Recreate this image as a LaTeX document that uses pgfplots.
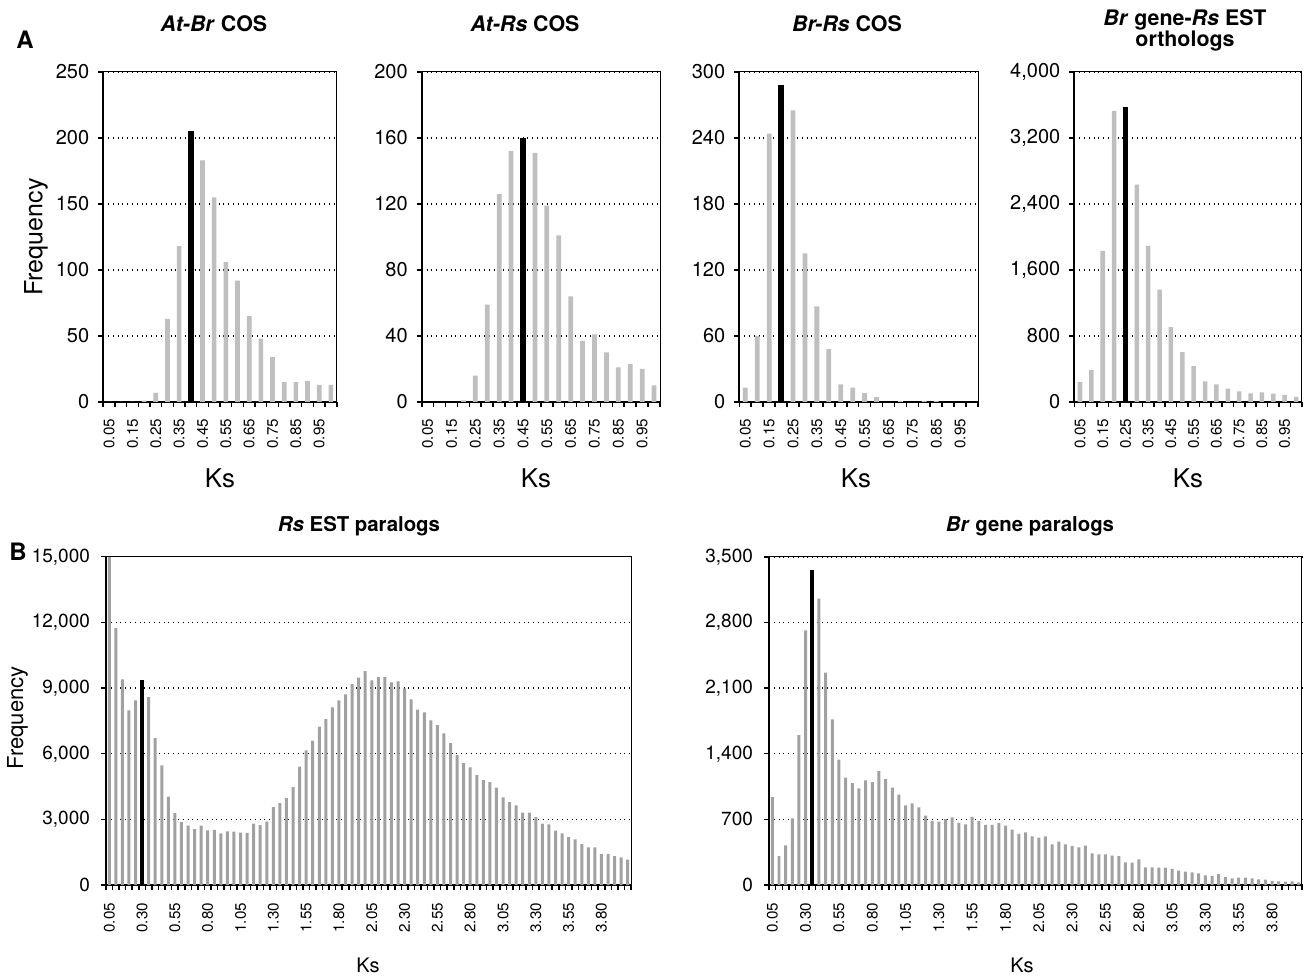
\documentclass[border=0pt]{standalone}
\usepackage{fontspec}
\setmainfont{TeX Gyre Heros}
\usepackage{pgfplots}
\pgfplotsset{compat=1.18}

\definecolor{barA}{gray}{0.75}
\definecolor{barB}{gray}{0.63}

\pgfplotsset{
  hist/.style={
    scale only axis, enlargelimits=false, ymin=0,
    axis x line*=bottom, axis y line*=left,
    axis line style={line width=1pt},
    tick align=outside,
    ymajorgrids, major grid style={dotted, line width=0.8pt, black},
    major tick length=2.5pt,
    every tick/.style={black, line width=0.8pt},
    /pgf/number format/assume math mode=true,
    /pgf/number format/1000 sep={,},
    scaled y ticks=false,
    yticklabel style={font=\fontsize{10}{12}\selectfont, xshift=-1pt},
    xticklabel style={font=\fontsize{7.6}{9}\selectfont, rotate=90, anchor=east},
    xticklabels={},
    extra x tick style={major tick length=0pt},
    after end axis/.code={\draw[line width=0.5pt] (rel axis cs:0,1) -- (rel axis cs:1,1) -- (rel axis cs:1,0);},
  },
  top/.style={hist, height=165pt, xmin=0.5, xmax=20.5,
    xticklabel shift=5pt,
    xtick={0.5,1.5,...,20.5},
    extra x ticks={1,3,...,19},
    extra x tick labels={0.05,0.15,0.25,0.35,0.45,0.55,0.65,0.75,0.85,0.95}},
  bot/.style={hist, height=164.15pt, xmin=0.5, xmax=80.5,
    xticklabel shift=5.5pt,
    xtick={0.5,1.5,...,80.5},
    extra x ticks={1,6,...,76},
    extra x tick labels={0.05,0.30,0.55,0.80,1.05,1.30,1.55,1.80,2.05,2.30,2.55,2.80,3.05,3.30,3.55,3.80},
    yticklabel style={font=\fontsize{9.5}{11}\selectfont, xshift=-1pt}},
  gbarA/.style={ybar, bar width=0.4, bar shift=0pt, fill=barA, draw=none},
  kbarA/.style={ybar, bar width=0.52, bar shift=0pt, fill=black, draw=none},
  gbarB/.style={ybar, bar width=0.45, bar shift=0pt, fill=barB, draw=none},
  kbarB/.style={ybar, bar width=0.62, bar shift=0pt, fill=black, draw=none},
}

\begin{document}
\begin{tikzpicture}
\useasboundingbox (0,0) rectangle (653.5pt,487.5pt);

% ---------- A1: At-Br COS
\begin{axis}[top, at={(51.65pt,286.5pt)}, anchor=south west, width=116.7pt,
  ymax=250, ytick={0,50,...,250}]
\addplot[gbarA] table {
x y
1 0
2 0
3 0
4 1
5 7
6 63
7 118
9 183
10 155
11 106
12 92
13 65
14 48
15 34
16 15
17 15
18 16
19 13
20 13
};
\addplot[kbarA] coordinates {(8,205)};
\end{axis}

% ---------- A2: At-Rs COS
\begin{axis}[top, at={(210.85pt,286.5pt)}, anchor=south west, width=119.15pt,
  ymax=200, ytick={0,40,...,200}]
\addplot[gbarA] table {
x y
4 1
5 16
6 59
7 126
8 152
10 151
11 119
12 101
13 64
14 37
15 41
16 30
17 21
18 23
19 20
20 10
};
\addplot[kbarA] coordinates {(9,160)};
\end{axis}

% ---------- A3: Br-Rs COS
\begin{axis}[top, at={(369.65pt,286.5pt)}, anchor=south west, width=119.35pt,
  ymax=300, ytick={0,60,...,300}]
\addplot[gbarA] table {
x y
1 13
2 60
3 244
5 265
6 135
7 87
8 48
9 16
10 13
11 8
12 4.5
14 1
16 1
17 1
};
\addplot[kbarA] coordinates {(4,288)};
\end{axis}

% ---------- A4: Br gene-Rs EST orthologs
\begin{axis}[top, at={(537.15pt,286.5pt)}, anchor=south west, width=113.7pt,
  ymax=4000, ytick={0,800,...,4000}]
\addplot[gbarA] table {
x y
1 243
2 385
3 1831
4 3529
6 2634
7 1892
8 1361
9 908
10 604
11 434
12 251
13 215
14 162
15 130
16 105
17 118
18 101
19 85
20 61
};
\addplot[kbarA] coordinates {(5,3574)};
\end{axis}

% ---------- B1: Rs EST paralogs
\begin{axis}[bot, at={(53pt,45pt)}, anchor=south west, width=262.5pt,
  ymax=15000, ytick={0,3000,...,15000}]
\addplot[gbarB] table {
x y
1 15000
2 11741
3 9395
4 7979
5 8436
7 8588
8 6715
9 5467
10 4035
11 3289
12 2878
13 2711
14 2558
15 2711
16 2497
17 2513
18 2360
19 2452
20 2436
21 2391
22 2376
23 2802
24 2741
25 2893
26 3563
27 3746
28 3974
29 4477
30 5406
31 6152
32 6594
33 7233
34 7583
35 8116
36 8436
37 8710
38 9182
39 9472
40 9776
41 9350
42 9502
43 9502
44 9258
45 9304
46 8984
47 8482
48 8010
49 7888
50 7522
51 7309
52 6929
53 6487
54 5939
55 5573
56 5375
57 5025
58 4797
59 4705
60 4447
61 4005
62 3792
63 3639
64 3304
65 3304
66 3106
67 2802
68 2771
69 2482
70 2360
71 2193
72 2086
73 1873
74 1721
75 1721
76 1416
77 1416
78 1325
79 1264
80 1157
};
\addplot[kbarB] coordinates {(6,9350)};
\end{axis}

% ---------- B2: Br gene paralogs
\begin{axis}[bot, at={(384.5pt,45pt)}, anchor=south west, width=266.5pt,
  ymax=3500, ytick={0,700,...,3500}]
\addplot[gbarB] table {
x y
1 938
2 309
3 423
4 711
5 1599
6 2715
8 3053
9 2264
10 1766
11 1336
12 1144
13 1087
14 1031
15 1116
16 1098
17 1215
18 1130
19 1038
20 963
21 849
22 871
23 828
24 739
25 682
26 675
27 704
28 721
29 661
30 647
31 725
32 682
33 640
34 640
35 661
36 633
37 590
38 544
39 561
40 519
41 505
42 519
43 434
44 462
45 434
46 416
47 402
48 419
49 338
50 327
51 327
52 313
53 309
54 242
55 238
56 274
57 188
58 188
59 185
60 185
61 171
62 153
63 142
64 135
65 124
66 103
67 96
68 117
69 85
70 71
71 78
72 78
73 71
74 60
75 57
76 43
77 39
78 36
79 39
80 28
};
\addplot[kbarB] coordinates {(7,3362)};
\end{axis}

% ---------- text
\node[font=\fontsize{12}{14}\selectfont\bfseries] at (12.5pt,467.75pt) {A};
\node[font=\fontsize{12}{14}\selectfont\bfseries] at (9pt,211.5pt) {B};

\node[font=\fontsize{10.7}{13}\selectfont\bfseries] at (107pt,475.5pt) {\textit{At-Br} COS};
\node[font=\fontsize{10.7}{13}\selectfont\bfseries] at (262.5pt,475.5pt) {\textit{At-Rs} COS};
\node[font=\fontsize{10.7}{13}\selectfont\bfseries] at (423.5pt,475.5pt) {\textit{Br-Rs} COS};
\node[font=\fontsize{10.7}{10.5}\selectfont\bfseries, align=center] at (592.5pt,472.5pt) {\textit{Br} gene-\textit{Rs} EST\\orthologs};
\node[font=\fontsize{10.2}{12}\selectfont\bfseries] at (179.5pt,224.5pt) {\textit{Rs} EST paralogs};
\node[font=\fontsize{10.2}{12}\selectfont\bfseries] at (515pt,224.5pt) {\textit{Br} gene paralogs};

\node[font=\fontsize{12.9}{15}\selectfont] at (110pt,248.5pt) {Ks};
\node[font=\fontsize{12.9}{15}\selectfont] at (268pt,248.5pt) {Ks};
\node[font=\fontsize{12.9}{15}\selectfont] at (428pt,248.5pt) {Ks};
\node[font=\fontsize{12.9}{15}\selectfont] at (594pt,248.5pt) {Ks};
\node[font=\fontsize{10}{12}\selectfont] at (184pt,5pt) {Ks};
\node[font=\fontsize{10}{12}\selectfont] at (511pt,5pt) {Ks};

\node[font=\fontsize{12.5}{15}\selectfont, rotate=90] at (18pt,369pt) {Frequency};
\node[font=\fontsize{11}{13}\selectfont, rotate=90] at (8.8pt,128.5pt) {Frequency};
\end{tikzpicture}
\end{document}
